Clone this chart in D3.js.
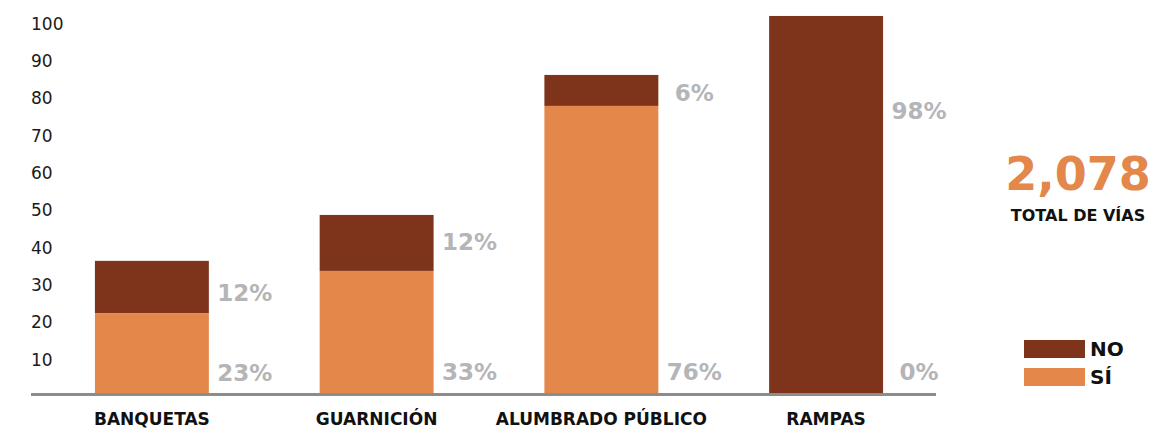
<!DOCTYPE html>
<html>
<head>
<meta charset="utf-8">
<script src="https://cdn.jsdelivr.net/npm/d3@7"></script>
<style>
  body { margin: 0; background: #fff; }
  svg { display: block; font-family: "DejaVu Sans", sans-serif; }
</style>
</head>
<body>
<div id="chart"></div>
<script>
// values
var categories = ["BANQUETAS", "GUARNICIÓN", "ALUMBRADO PÚBLICO", "RAMPAS"];
var siValues = [21.4, 32.7, 76.9, 0];
var noValues = [14.0, 15.0, 8.3, 101.0];
var siLabels = ["23%", "33%", "76%", "0%"];
var noLabels = ["12%", "12%", "6%", "98%"];
// where the percentage labels sit, in value units
var siLabelAt = [5.4, 5.8, 5.6, 5.6];
var noLabelAt = [26.8, 40.5, 80.4, 75.5];
var yTicks = [10, 20, 30, 40, 50, 60, 70, 80, 90, 100];
var totalText = "2,078";
var totalLabel = "TOTAL DE VÍAS";

var width = 1174, height = 430;
var colorNo = "#7e341b", colorSi = "#e3874a", grey = "#b4b5b8";

var svg = d3.select("#chart").append("svg")
    .attr("width", width)
    .attr("height", height);

var x = d3.scaleBand()
    .domain(categories)
    .range([31, 936])
    .paddingInner(0.493)
    .paddingOuter(0.26)
    .align(0.547);

var y = d3.scaleLinear()
    .domain([0, 100])
    .range([393, 19.7]);

// y tick labels
svg.append("g")
  .selectAll("text")
  .data(yTicks)
  .enter()
  .append("text")
    .attr("x", 31)
    .attr("y", function(d) { return y(d) + 4; })
    .attr("dy", "0.36em")
    .attr("font-size", 17)
    .attr("fill", "#1a1a1a")
    .text(function(d) { return d; });

var rows = categories.map(function(c, i) {
    return {cat: c, si: siValues[i], no: noValues[i],
            siLab: siLabels[i], noLab: noLabels[i],
            siAt: siLabelAt[i], noAt: noLabelAt[i]};
});

var bar = svg.selectAll(".bar")
    .data(rows)
    .enter()
    .append("g")
    .attr("class", "bar");

bar.append("rect")
    .attr("x", function(d) { return x(d.cat); })
    .attr("width", x.bandwidth())
    .attr("y", function(d) { return y(d.si + d.no); })
    .attr("height", function(d) { return y(d.si) - y(d.si + d.no); })
    .attr("fill", colorNo);

bar.append("rect")
    .attr("x", function(d) { return x(d.cat); })
    .attr("width", x.bandwidth())
    .attr("y", function(d) { return y(d.si); })
    .attr("height", function(d) { return y(0) - y(d.si); })
    .attr("fill", colorSi);

// percentage labels, centred to the right of each bar
bar.append("text")
    .attr("x", function(d) { return x(d.cat) + x.bandwidth() + 36; })
    .attr("y", function(d) { return y(d.noAt); })
    .attr("dy", "0.36em")
    .attr("text-anchor", "middle")
    .attr("font-size", 23)
    .attr("font-weight", "bold")
    .attr("fill", grey)
    .text(function(d) { return d.noLab; });

bar.append("text")
    .attr("x", function(d) { return x(d.cat) + x.bandwidth() + 36; })
    .attr("y", function(d) { return y(d.siAt); })
    .attr("dy", "0.36em")
    .attr("text-anchor", "middle")
    .attr("font-size", 23)
    .attr("font-weight", "bold")
    .attr("fill", grey)
    .text(function(d) { return d.siLab; });

// baseline
svg.append("line")
    .attr("x1", 31).attr("x2", 936)
    .attr("y1", y(0) + 1.5).attr("y2", y(0) + 1.5)
    .attr("stroke", "#8c8c8c")
    .attr("stroke-width", 3);

// category labels
svg.append("g")
  .selectAll("text")
  .data(categories)
  .enter()
  .append("text")
    .attr("x", function(d) { return x(d) + x.bandwidth() / 2; })
    .attr("y", 419)
    .attr("dy", "0.36em")
    .attr("text-anchor", "middle")
    .attr("font-size", 17)
    .attr("font-weight", "bold")
    .attr("fill", "#111")
    .text(function(d) { return d; });

// total
svg.append("text")
    .attr("x", 1078).attr("y", 173)
    .attr("dy", "0.36em")
    .attr("text-anchor", "middle")
    .attr("font-size", 46)
    .attr("font-weight", "bold")
    .attr("fill", colorSi)
    .text(totalText);

svg.append("text")
    .attr("x", 1078).attr("y", 215)
    .attr("dy", "0.36em")
    .attr("text-anchor", "middle")
    .attr("font-size", 16)
    .attr("font-weight", "bold")
    .attr("fill", "#111")
    .text(totalLabel);

// legend
var legend = [{name: "NO", color: colorNo}, {name: "SÍ", color: colorSi}];
var lg = svg.selectAll(".legend")
    .data(legend)
    .enter()
    .append("g")
    .attr("class", "legend")
    .attr("transform", function(d, i) { return "translate(1024," + (340 + i * 28) + ")"; });

lg.append("rect")
    .attr("width", 61)
    .attr("height", 18)
    .attr("fill", function(d) { return d.color; });

lg.append("text")
    .attr("x", 66)
    .attr("y", 9)
    .attr("dy", "0.36em")
    .attr("font-size", 20)
    .attr("font-weight", "bold")
    .attr("fill", "#111")
    .text(function(d) { return d.name; });
</script>
</body>
</html>
